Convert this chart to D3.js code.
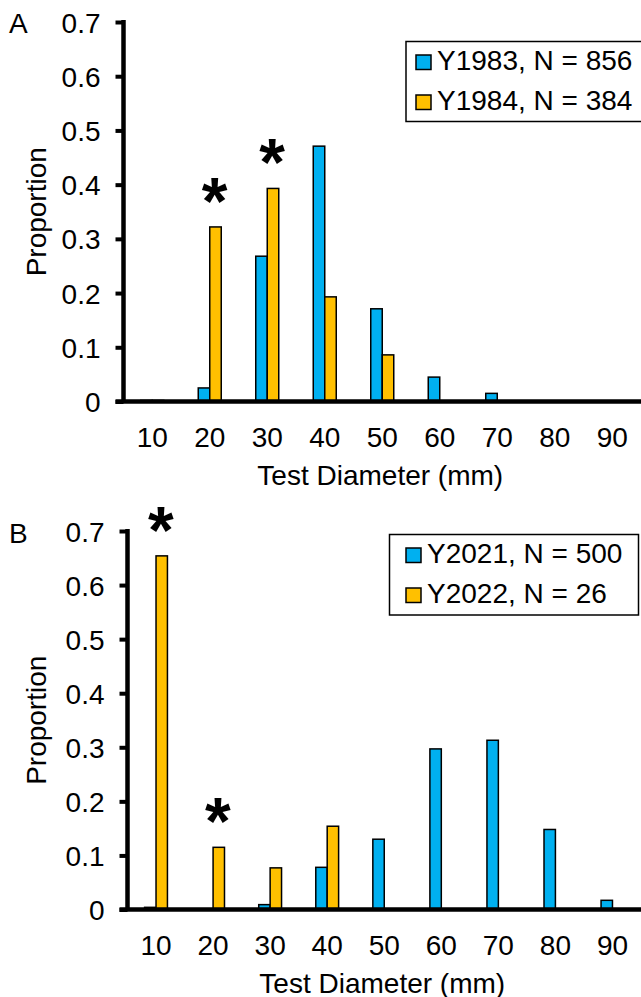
<!DOCTYPE html>
<html>
<head>
<meta charset="utf-8">
<script src="https://cdn.jsdelivr.net/npm/d3@7/dist/d3.min.js"></script>
<style>
  html, body { margin: 0; padding: 0; background: #ffffff; }
  svg { display: block; font-family: "Liberation Sans", Arial, sans-serif; }
</style>
</head>
<body>
<svg id="chart" width="641" height="997"></svg>
<script>
// ---------- data ----------
const categories = ["10", "20", "30", "40", "50", "60", "70", "80", "90"];
const yTicks = [0, 0.1, 0.2, 0.3, 0.4, 0.5, 0.6, 0.7];

const panelALabels = ["Y1983, N = 856", "Y1984, N = 384"];
const panelA1983 = [0.002, 0.025, 0.268, 0.471, 0.171, 0.045, 0.015, 0, 0];
const panelA1984 = [0.002, 0.322, 0.393, 0.193, 0.086, 0, 0.001, 0, 0];
const panelAStars = ["20", "30"];

const panelBLabels = ["Y2021, N = 500", "Y2022, N = 26"];
const panelB2021 = [0.004, 0, 0.009, 0.078, 0.130, 0.297, 0.313, 0.148, 0.017];
const panelB2022 = [0.654, 0.115, 0.077, 0.154, 0, 0, 0, 0, 0];
const panelBStars = ["10", "20"];

const colors = ["#00B0F0", "#FFC000"];
const xTitle = "Test Diameter (mm)";
const yTitle = "Proportion";

// ---------- drawing ----------
const svg = d3.select("#chart");
const FS = 28;

function drawPanel(p) {
  const g = svg.append("g");
  const x = d3.scaleBand().domain(categories).range([p.axisX, 641]).paddingInner(0.6).paddingOuter(0.3);
  const xs = d3.scaleBand().domain([0, 1]).range([0, x.bandwidth()]);
  const y = d3.scaleLinear().domain([0, 0.7]).range([p.zeroY, p.topY]);

  // bars
  p.series.forEach((vals, si) => {
    g.append("g").selectAll("rect").data(vals).join("rect")
      .attr("x", (d, i) => x(categories[i]) + xs(si))
      .attr("width", xs.bandwidth())
      .attr("y", d => y(d))
      .attr("height", d => y(0) - y(d))
      .attr("fill", colors[si])
      .attr("stroke", "#000")
      .attr("stroke-width", 1.5);
  });

  // y axis
  const ya = d3.axisLeft(y).tickValues(yTicks).tickSize(8).tickSizeOuter(0).tickPadding(15)
    .tickFormat(d => d === 0 ? "0" : d3.format(".1f")(d));
  const yg = g.append("g").attr("transform", `translate(${p.axisX},0)`).call(ya);
  yg.select(".domain").remove();
  yg.selectAll(".tick line").attr("stroke", "#000").attr("stroke-width", 4);
  yg.selectAll(".tick text").attr("font-size", FS).attr("fill", "#000").attr("dy", "0.36em")
    .attr("font-family", "Liberation Sans, Arial, sans-serif");
  g.append("line").attr("x1", p.axisX).attr("x2", p.axisX)
    .attr("y1", y(0.7) - 2).attr("y2", y(0))
    .attr("stroke", "#000").attr("stroke-width", 4.5);

  // x axis line
  g.append("line").attr("x1", p.axisX - 8).attr("x2", 641)
    .attr("y1", y(0)).attr("y2", y(0))
    .attr("stroke", "#000").attr("stroke-width", 4.5);

  // x tick labels
  const xa = d3.axisBottom(x).tickSize(0).tickPadding(26);
  const xg = g.append("g").attr("transform", `translate(0,${y(0)})`).call(xa);
  xg.select(".domain").remove();
  xg.selectAll(".tick text").attr("font-size", FS).attr("fill", "#000")
    .attr("font-family", "Liberation Sans, Arial, sans-serif");

  // axis titles
  g.append("text").attr("x", (p.axisX + 641) / 2 - 2).attr("y", y(0) + 83)
    .attr("text-anchor", "middle").attr("font-size", FS).text(xTitle);
  g.append("text")
    .attr("transform", `translate(${46},${(y(0) + y(0.7)) / 2}) rotate(-90)`)
    .attr("text-anchor", "middle").attr("font-size", FS).text(yTitle);

  // panel letter
  g.append("text").attr("x", 9).attr("y", p.letterY).attr("font-size", FS).text(p.letter);

  // asterisks over significant yellow bars
  const yellow = p.series[1];
  g.selectAll("text.star").data(p.stars).join("text").attr("class", "star")
    .attr("x", c => x(c) + xs(1) + xs.bandwidth() / 2 - 1)
    .attr("y", c => y(yellow[categories.indexOf(c)]) - 39 + 36)
    .attr("text-anchor", "middle").attr("font-size", 66).attr("font-weight", "bold")
    .text("*");

  // legend
  const lg = g.append("g");
  lg.append("rect").attr("x", p.legend.x).attr("y", p.legend.y)
    .attr("width", p.legend.w).attr("height", p.legend.h)
    .attr("fill", "#fff").attr("stroke", "#000").attr("stroke-width", 1.5);
  p.labels.forEach((lab, i) => {
    lg.append("rect").attr("x", p.legend.x + p.legend.sw).attr("y", p.legend.y + 13.5 + i * 40)
      .attr("width", 15).attr("height", 14.5)
      .attr("fill", colors[i]).attr("stroke", "#000").attr("stroke-width", 1.5);
    lg.append("text").attr("x", p.legend.x + p.legend.sw + 21).attr("y", p.legend.y + 28.5 + i * 40)
      .attr("font-size", FS).text(lab);
  });
}

drawPanel({
  axisX: 123.5, topY: 22, zeroY: 401.5,
  series: [panelA1983, panelA1984], labels: panelALabels, stars: panelAStars,
  letter: "A", letterY: 33,
  legend: { x: 406, y: 41.5, w: 240, h: 80, sw: 10 }
});
drawPanel({
  axisX: 127.5, topY: 531, zeroY: 909.5,
  series: [panelB2021, panelB2022], labels: panelBLabels, stars: panelBStars,
  letter: "B", letterY: 542.5,
  legend: { x: 389.5, y: 534.5, w: 249, h: 80.5, sw: 16.5 }
});
</script>
</body>
</html>
